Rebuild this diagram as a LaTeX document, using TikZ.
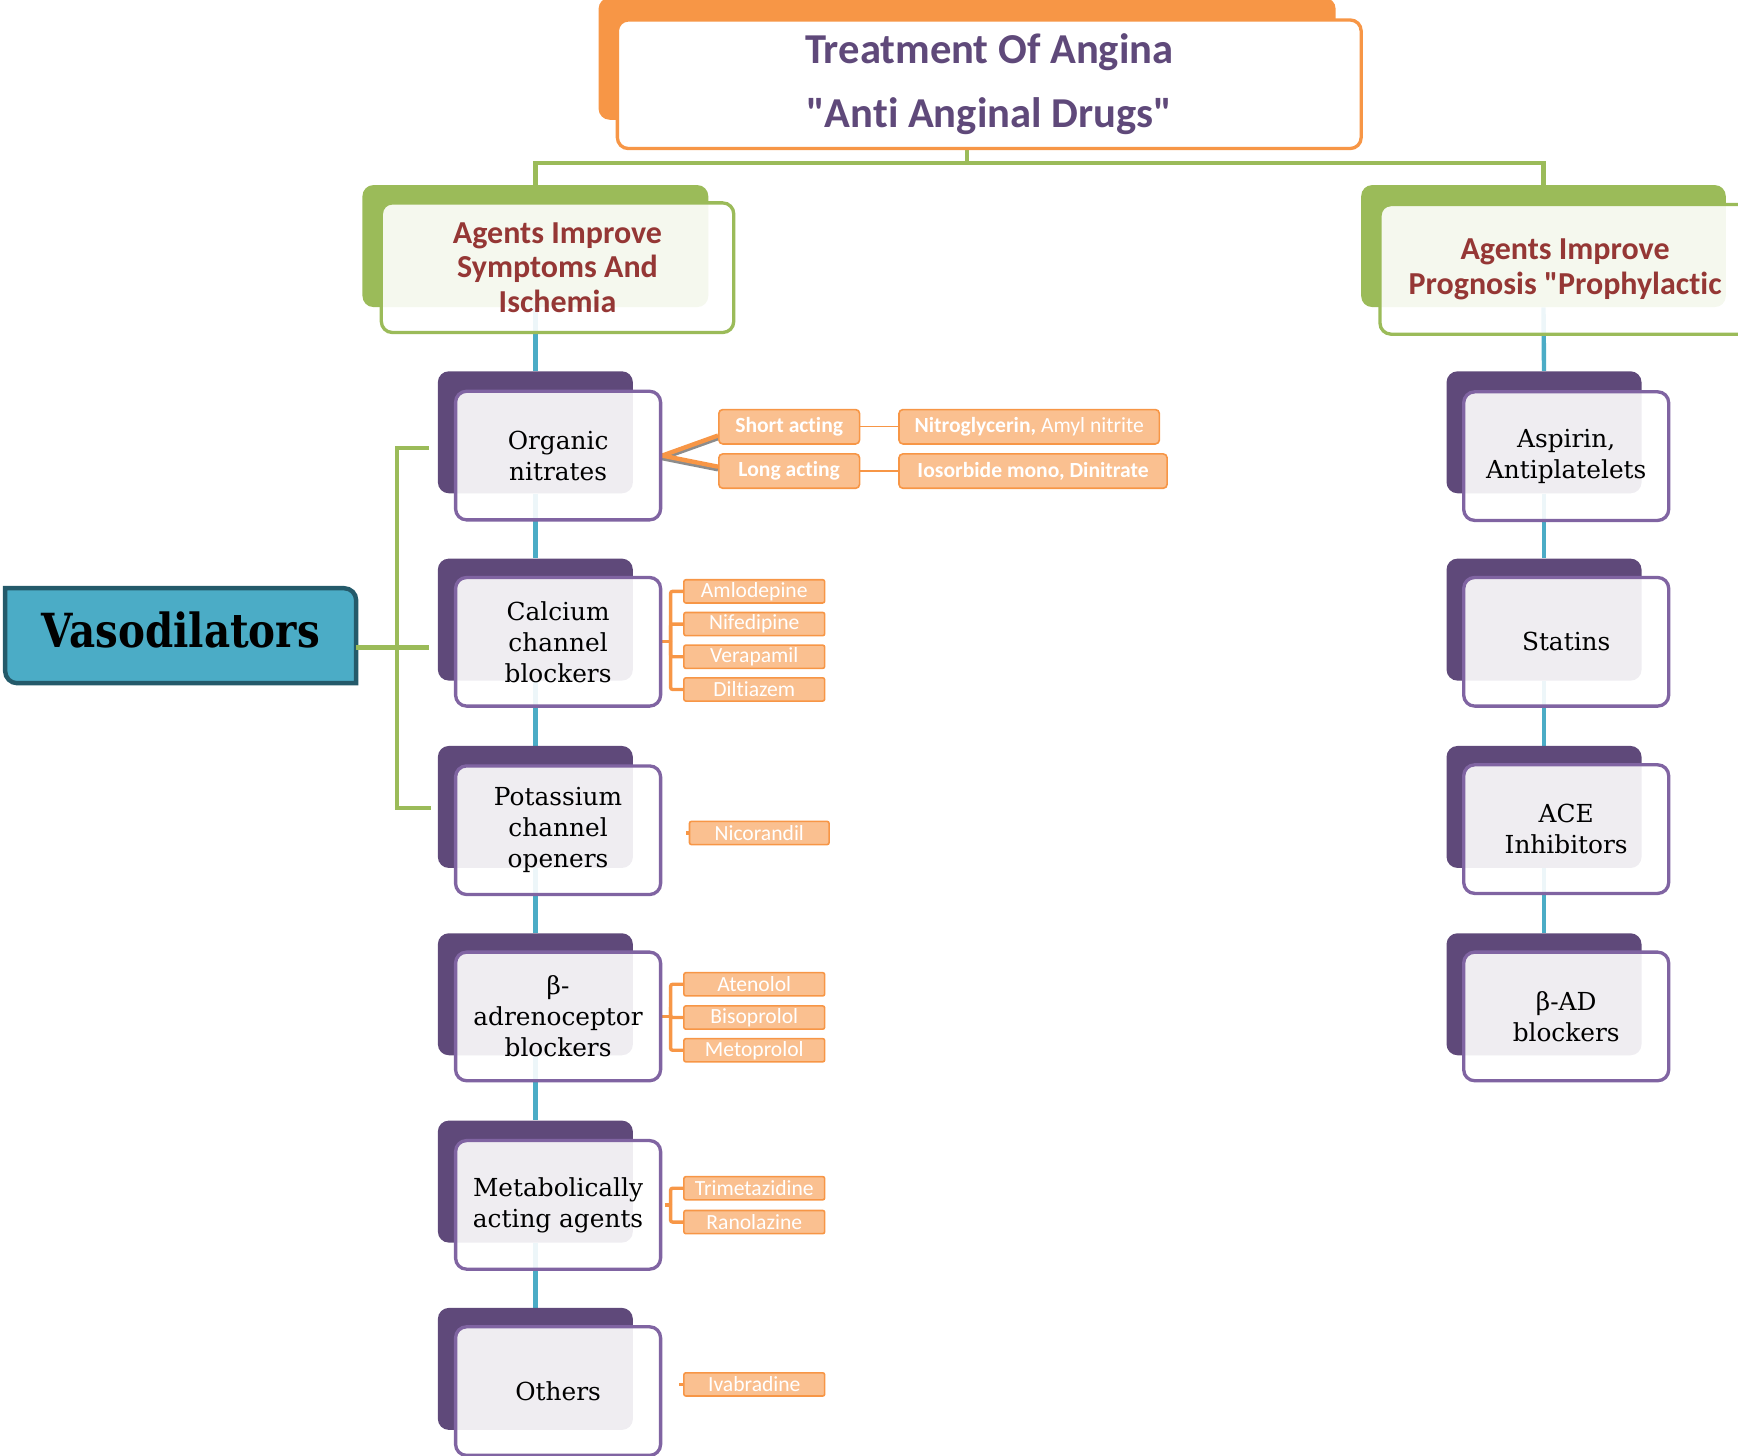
\documentclass[tikz,border=0pt]{standalone}
\usepackage{fontspec}
\setmainfont{DejaVu Serif}
\newfontfamily\carl{Carlito}[Ligatures={TeXOff,CommonOff}]
\newfontfamily\vasofont{DejaVu Serif}[FakeStretch=0.86]
\usetikzlibrary{calc}
\pgfdeclarelayer{bg}
\pgfsetlayers{bg,main}
\definecolor{tor}{HTML}{F79646}
\definecolor{tpur}{HTML}{5F497A}
\definecolor{tgreen}{HTML}{9BBB59}
\definecolor{tred}{HTML}{953735}
\definecolor{pborder}{HTML}{8064A2}
\definecolor{tblue}{HTML}{4BACC6}
\definecolor{vborder}{HTML}{245A6A}
\definecolor{dfill}{HTML}{FAC090}
\tikzset{
  backbox/.style={draw=none, inner sep=0pt, rounded corners=5.5pt},
  frontbox/.style={fill=white, fill opacity=0.9, text opacity=1, line width=1.66pt, rounded corners=5.5pt, inner sep=0pt, align=center},
  pback/.style={backbox, fill=tpur, minimum width=97.5pt, minimum height=61pt},
  pfront/.style={frontbox, draw=pborder, minimum width=102.5pt, minimum height=64.3pt, font=\fontsize{12.4}{15.5}\selectfont},
  gback/.style={backbox, fill=tgreen, minimum height=61pt},
  gfront/.style={frontbox, draw=tgreen, minimum height=64.8pt, text=tred, font=\carl\bfseries\fontsize{16}{17.2}\selectfont},
  drug/.style={fill=dfill, draw=tor, line width=0.8pt, rounded corners=1pt, inner sep=0pt, minimum width=70.4pt, minimum height=11.6pt, text=white, font=\carl\fontsize{10.8}{11}\selectfont},
  act/.style={drug, minimum height=17.2pt, rounded corners=2pt, font=\carl\bfseries\fontsize{10.8}{12}\selectfont},
  greenline/.style={draw=tgreen, line width=2.2pt},
  blueline/.style={draw=tblue, line width=2.2pt},
  orline/.style={draw=tor, line width=1.7pt, rounded corners=1pt},
  thinor/.style={draw=tor, line width=0.6pt},
  shadowline/.style={draw=black!45, line width=2.2pt},
  branchline/.style={draw=tor, line width=2.2pt}
}
\begin{document}
\begin{tikzpicture}[x=0.5542pt,y=-0.5542pt]
\useasboundingbox (0,0) rectangle (1568,1313);
\clip (0,0) rectangle (1568,1313);
% title
\node[backbox, fill=tor, minimum width=368.5pt, minimum height=61pt] (tb) at (872.5,53) {};
\node[frontbox, fill opacity=1, draw=tor, minimum width=371.9pt, minimum height=64.3pt, text=tpur,
      font=\carl\bfseries\fontsize{21.3}{32}\selectfont] (title) at (892.5,76)
      {Treatment Of Angina\\"Anti Anginal Drugs"};
% green group boxes
\node[gback, minimum width=172.9pt] (gLb) at (483,222) {};
\node[gfront, minimum width=176.2pt] (gL) at (503,241.5) {Agents Improve\\Symptoms And\\Ischemia};
\node[gback, minimum width=182.3pt] (gRb) at (1392.5,222) {};
\node[gfront, minimum width=185.1pt] (gR) at (1412,243) {Agents Improve\\Prognosis "Prophylactic};
% left column
\node[pback] (b1) at (483,390) {};
\node[pfront] (n1) at (503.5,411) {Organic\\nitrates};
\node[pback] (b2) at (483,559) {};
\node[pfront] (n2) at (503.5,579) {Calcium\\channel\\blockers};
\node[pback] (b3) at (483,728) {};
\node[pfront] (n3) at (503.5,749) {Potassium\\channel\\openers};
\node[pback] (b4) at (483,897) {};
\node[pfront] (n4) at (503.5,917) {β-\\adrenoceptor\\blockers};
\node[pback] (b5) at (483,1066) {};
\node[pfront] (n5) at (503.5,1087) {Metabolically\\acting agents};
\node[pback] (b6) at (483,1235) {};
\node[pfront] (n6) at (503.5,1255) {Others};
% right column
\node[pback] (rb1) at (1393,390) {};
\node[pfront] (r1) at (1413,411.5) {Aspirin,\\Antiplatelets};
\node[pback] (rb2) at (1393,559) {};
\node[pfront] (r2) at (1413,579) {Statins};
\node[pback] (rb3) at (1393,728) {};
\node[pfront] (r3) at (1413,748) {ACE\\Inhibitors};
\node[pback] (rb4) at (1393,897) {};
\node[pfront] (r4) at (1413,917) {β-AD\\blockers};
% vasodilators
\node[minimum width=175.1pt, minimum height=47.1pt, inner sep=0pt, text depth=6.5pt,
      font=\vasofont\bfseries\fontsize{23.5}{26}\selectfont] (vaso) at (163,573.5) {Vasodilators};
% nitrates
\node[act] (short) at (712,385) {Short acting};
\node[act] (long) at (712,425) {Long acting};
\node[act, minimum width=130.2pt] (nitro) at (928.5,385) {Nitroglycerin, {\mdseries Amyl nitrite}};
\node[act, minimum width=134.1pt] (iso) at (932,425) {Iosorbide mono, Dinitrate};
% drugs
\node[drug] (am) at (680.5,533.5) {Amlodepine};
\node[drug] (nif) at (680.5,563) {Nifedipine};
\node[drug] (ver) at (680.5,592.5) {Verapamil};
\node[drug] (dil) at (680.5,622) {Diltiazem};
\node[drug, minimum width=69.8pt] (nic) at (685,751.5) {Nicorandil};
\node[drug] (ate) at (680.5,888) {Atenolol};
\node[drug] (bis) at (680.5,918) {Bisoprolol};
\node[drug] (met) at (680.5,947.5) {Metoprolol};
\node[drug] (tri) at (680.5,1072) {Trimetazidine};
\node[drug] (ran) at (680.5,1102.5) {Ranolazine};
\node[drug] (iva) at (680.5,1249) {Ivabradine};
% coordinates
\coordinate (tj) at (872.5,147);
\coordinate (vt) at (358,404);
\coordinate (vb) at (358,729);
\coordinate (e1) at (387,404);
\coordinate (e2) at (387,584);
\coordinate (e3) at (389,729);
\coordinate (k2) at (605,579);
\coordinate (k4) at (605,917);
\coordinate (k5) at (605,1087);
\coordinate (s5) at (600,1087);
\coordinate (s3) at (619,751.5);
\coordinate (s6) at (613,1249);
\begin{pgfonlayer}{bg}
  \filldraw[fill=tblue, draw=vborder, line width=2.2pt]
    (vaso.north west) -- ([xshift=-6pt]vaso.north east) arc[start angle=90, end angle=0, radius=6pt]
    -- (vaso.south east) -- ([xshift=6pt]vaso.south west) arc[start angle=270, end angle=180, radius=6pt]
    -- cycle;
  \draw[greenline] (tb.south) -- (tj);
  \draw[greenline] (gLb.north) |- (tj);
  \draw[greenline] (gRb.north) |- (tj);
  \draw[blueline] (gLb.south) -- (b1.north);
  \draw[blueline] (b1.south) -- (b2.north);
  \draw[blueline] (b2.south) -- (b3.north);
  \draw[blueline] (b3.south) -- (b4.north);
  \draw[blueline] (b4.south) -- (b5.north);
  \draw[blueline] (b5.south) -- (b6.north);
  \draw[blueline] (gRb.south) -- (rb1.north);
  \draw[blueline] (rb1.south) -- (rb2.north);
  \draw[blueline] (rb2.south) -- (rb3.north);
  \draw[blueline] (rb3.south) -- (rb4.north);
  \draw[greenline] (e1) -- (vt) -- (vb) -- (e3);
  \draw[greenline] (vaso.east |- e2) -- (e2);
  \draw[shadowline] ([yshift=-1.3pt]n1.east) -- ([yshift=-5.7pt]short.west);
  \draw[shadowline] ([yshift=-1.3pt]n1.east) -- ([yshift=0.9pt]long.west);
  \draw[branchline] (n1.east) -- ([yshift=-4.4pt]short.west);
  \draw[branchline] (n1.east) -- ([yshift=2.2pt]long.west);
  \draw[thinor] (short.east) -- (nitro.west);
  \draw[thinor] (long.east) -- (iso.west);
  \draw[orline] (n2.east) -- (k2);
  \foreach \d in {am,nif,ver,dil} \draw[orline] (\d.west) -| (k2);
  \draw[orline] (s3) -- (nic.west);
  \draw[orline] (n4.east) -- (k4);
  \foreach \d in {ate,bis,met} \draw[orline] (\d.west) -| (k4);
  \draw[orline] (s5) -- (k5);
  \foreach \d in {tri,ran} \draw[orline] (\d.west) -| (k5);
  \draw[orline] (s6) -- (iva.west);
\end{pgfonlayer}
\end{tikzpicture}
\end{document}
